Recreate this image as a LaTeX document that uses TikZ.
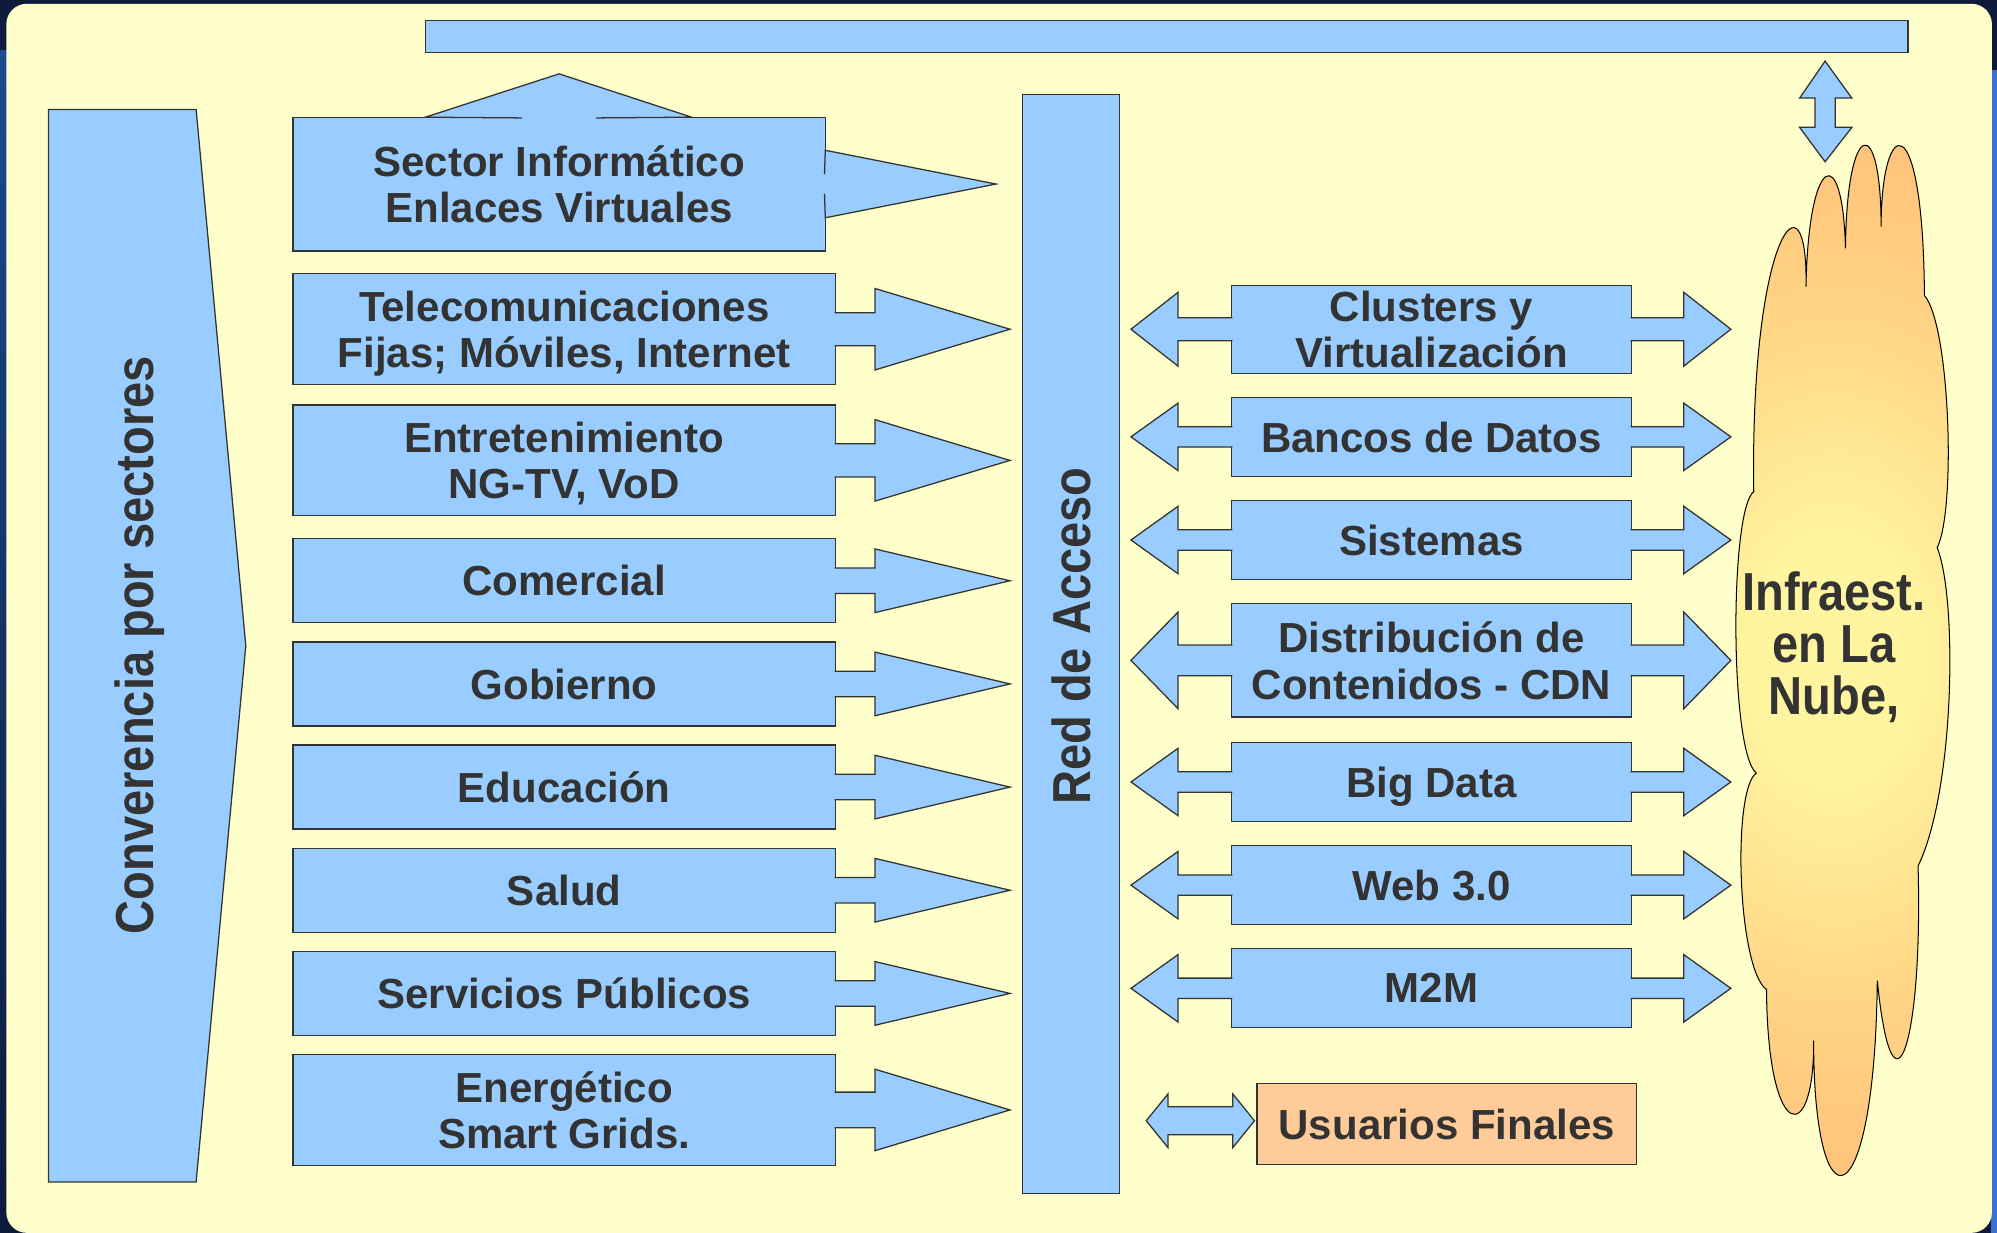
\documentclass[tikz,border=0pt]{standalone}
\usepackage{fontspec}
\setmainfont{Liberation Sans}
\newfontfamily\widefont[FakeStretch=0.88]{Liberation Sans}
\usetikzlibrary{calc,positioning}

\definecolor{frame}{HTML}{0E1A3A}
\definecolor{framelight}{HTML}{1B4A90}
\definecolor{frameedge}{HTML}{3B6FD0}
\definecolor{paper}{HTML}{FFFFCC}
\definecolor{boxblue}{HTML}{99CCFF}
\definecolor{edgegray}{HTML}{333333}
\definecolor{inkgray}{HTML}{333333}
\definecolor{peach}{HTML}{FFCC99}
\definecolor{cloudin}{HTML}{FFF5A0}
\definecolor{cloudlight}{HTML}{FFD585}
\definecolor{cloudmid}{HTML}{FFAE6E}
\definecolor{cloudout}{HTML}{FF9966}

\pgfdeclareradialshading{cloudglow}{\pgfpoint{0bp}{0bp}}{color(0bp)=(cloudin); color(5bp)=(cloudin); color(15bp)=(cloudlight); color(31bp)=(cloudmid); color(44bp)=(cloudout); color(50bp)=(cloudout)}

\tikzset{
  bluebox/.style={draw=edgegray, fill=boxblue, line width=1pt, inner sep=0pt, outer sep=0pt,
    text=inkgray, align=center, text depth=0pt,
    font=\bfseries\fontsize{33}{36.6}\selectfont},
  tallbox/.style={bluebox, minimum width=426pt, minimum height=87pt},
  flatbox/.style={bluebox, minimum width=426pt, minimum height=66pt},
  servicebox/.style={bluebox, minimum width=314pt},
  arrowshape/.style={draw=edgegray, fill=boxblue, line width=1pt, line join=miter},
  sidetext/.style={text=inkgray, inner sep=0pt, font=\widefont\bfseries\fontsize{42}{41}\selectfont},
}

\begin{document}
\begin{tikzpicture}[x=1pt,y=-1pt]
	\useasboundingbox (0,0) rectangle (1568,968);
	\fill[frame] (0,0) rectangle (1568,968);
	\shade[top color=framelight, bottom color=frame] (0,40) rectangle (6,968);
	\fill[frameedge] (1563,55) rectangle (1568,968);
	\fill[paper, rounded corners=16pt] (5,3) rectangle (1564,968);

	% top bar and link to the cloud
	\node[bluebox, minimum width=1164pt, minimum height=25pt] (nubebar) at (916,28.5) {};
	\coordinate (uptip) at (1433,48);
	\filldraw[arrowshape] (uptip) -- ++(21,29) -- ++(-13,0) -- ++(0,23) -- ++(13,0) -- ++(-21,27)
		-- ++(-20,-27) -- ++(12,0) -- ++(0,-23) -- ++(-12,0) -- cycle;

	% sectors
	\filldraw[arrowshape] (38,86) -- (154,86) -- (193,507) -- (154,928) -- (38,928) -- cycle;
	\node[sidetext, rotate=90] (convergencia) at (109.5,506.5) {Converencia por sectores};

	\node[bluebox, minimum width=418pt, minimum height=105pt] (sector) at (439,144.5) {Sector Informático\\Enlaces Virtuales};
	\filldraw[arrowshape] ([xshift=-29pt,yshift=-0.6pt]sector.north) -- ([xshift=-105pt]sector.north)
		-- ([yshift=34pt]sector.north) -- ([xshift=104pt]sector.north) -- ([xshift=29pt,yshift=-0.6pt]sector.north);
	\filldraw[arrowshape] ([xshift=-0.6pt,yshift=7.5pt]sector.east) -- ([yshift=26.5pt]sector.east)
		-- ([xshift=134pt]sector.east) -- ([yshift=-26.5pt]sector.east) -- ([xshift=-0.6pt,yshift=-7.5pt]sector.east);

	\node[tallbox] (telecom) at (443,258.5) {Telecomunicaciones\\Fijas; Móviles, Internet};
	\node[tallbox, below=16pt of telecom] (entret) {Entretenimiento\\NG-TV, VoD};
	\node[flatbox, below=18pt of entret] (comercial) {Comercial};
	\node[flatbox, below=15pt of comercial] (gobierno) {Gobierno};
	\node[flatbox, below=15pt of gobierno] (educacion) {Educación};
	\node[flatbox, below=15pt of educacion] (salud) {Salud};
	\node[flatbox, below=15pt of salud] (servicios) {Servicios Públicos};
	\node[tallbox, below=15pt of servicios] (energetico) {Energético\\Smart Grids.};

	\foreach \b/\s/\h in {telecom/13/32,entret/13/32,comercial/10/25,gobierno/10/25,educacion/10/25,salud/10/25,servicios/10/25,energetico/14/32}
		\filldraw[arrowshape] ([xshift=-0.6pt,yshift=\s pt]\b.east) -- ([xshift=31pt,yshift=\s pt]\b.east)
			-- ([xshift=31pt,yshift=\h pt]\b.east) -- ([xshift=137pt]\b.east)
			-- ([xshift=31pt,yshift=-\h pt]\b.east) -- ([xshift=31pt,yshift=-\s pt]\b.east)
			-- ([xshift=-0.6pt,yshift=-\s pt]\b.east);

	% access network
	\node[bluebox, sidetext, rotate=90, minimum width=863pt, minimum height=76pt] (acceso) at (841,505.5) {\hspace*{12pt}Red de Acceso};

	% services
	\node[servicebox, minimum height=69pt] (clusters) at (1124,258.5) {Clusters y\\Virtualización};
	\node[servicebox, minimum height=62pt, below=19pt of clusters] (bancos) {Bancos de Datos};
	\node[servicebox, minimum height=62pt, below=19pt of bancos] (sistemas) {Sistemas};
	\node[servicebox, minimum height=89pt, below=19pt of sistemas] (distribucion) {Distribución de\\Contenidos - CDN};
	\node[servicebox, minimum height=62pt, below=20pt of distribucion] (bigdata) {Big Data};
	\node[servicebox, minimum height=62pt, below=19pt of bigdata] (web) {Web 3.0};
	\node[servicebox, minimum height=62pt, below=19pt of web] (mtom) {M2M};

	\foreach \b/\s/\h in {clusters/9/29,bancos/8/26.5,sistemas/8/26.5,distribucion/12/38,bigdata/8/26.5,web/8/26.5,mtom/8/26.5}{
		\filldraw[arrowshape] ([xshift=0.6pt,yshift=\s pt]\b.west) -- ([xshift=-42pt,yshift=\s pt]\b.west)
			-- ([xshift=-42pt,yshift=\h pt]\b.west) -- ([xshift=-79pt]\b.west)
			-- ([xshift=-42pt,yshift=-\h pt]\b.west) -- ([xshift=-42pt,yshift=-\s pt]\b.west)
			-- ([xshift=0.6pt,yshift=-\s pt]\b.west);
		\filldraw[arrowshape] ([xshift=-0.6pt,yshift=\s pt]\b.east) -- ([xshift=41pt,yshift=\s pt]\b.east)
			-- ([xshift=41pt,yshift=\h pt]\b.east) -- ([xshift=78pt]\b.east)
			-- ([xshift=41pt,yshift=-\h pt]\b.east) -- ([xshift=41pt,yshift=-\s pt]\b.east)
			-- ([xshift=-0.6pt,yshift=-\s pt]\b.east);
	}

	\node[bluebox, fill=peach, minimum width=298pt, minimum height=64pt] (usuarios) at (1136,882.5) {Usuarios Finales};
	\coordinate (uftip) at ([xshift=-87pt,yshift=2.5pt]usuarios.west);
	\filldraw[arrowshape] (uftip) -- ++(17,-21) -- ++(0,10) -- ++(51,0) -- ++(0,-10) -- ++(17,21)
		-- ++(-17,21) -- ++(0,-10) -- ++(-51,0) -- ++(0,10) -- cycle;

	% cloud
	\filldraw[fill=cloudout, draw=black, line width=0.8pt,
		path picture={\shade[shading=cloudglow] (1440,505) ellipse [x radius=320, y radius=440];}]
		(1377,386) .. controls (1374,180) and (1420,130) .. (1418,225)
		.. controls (1420,120) and (1447,110) .. (1449,195)
		.. controls (1450,92) and (1477,88) .. (1477,178)
		.. controls (1477,90) and (1510,80) .. (1511,232)
		.. controls (1531,255) and (1536,400) .. (1521,430)
		.. controls (1537,470) and (1535,620) .. (1506,680)
		.. controls (1510,820) and (1486,890) .. (1474,770)
		.. controls (1472,960) and (1424,970) .. (1424,817)
		.. controls (1425,900) and (1388,900) .. (1387,777)
		.. controls (1364,760) and (1360,620) .. (1379,607)
		.. controls (1358,590) and (1358,400) .. (1377,386) -- cycle;
	\node[sidetext, align=center, text depth=0pt] (nube) at (1440,505) {Infraest.\\en La\\Nube,};
\end{tikzpicture}
\end{document}
